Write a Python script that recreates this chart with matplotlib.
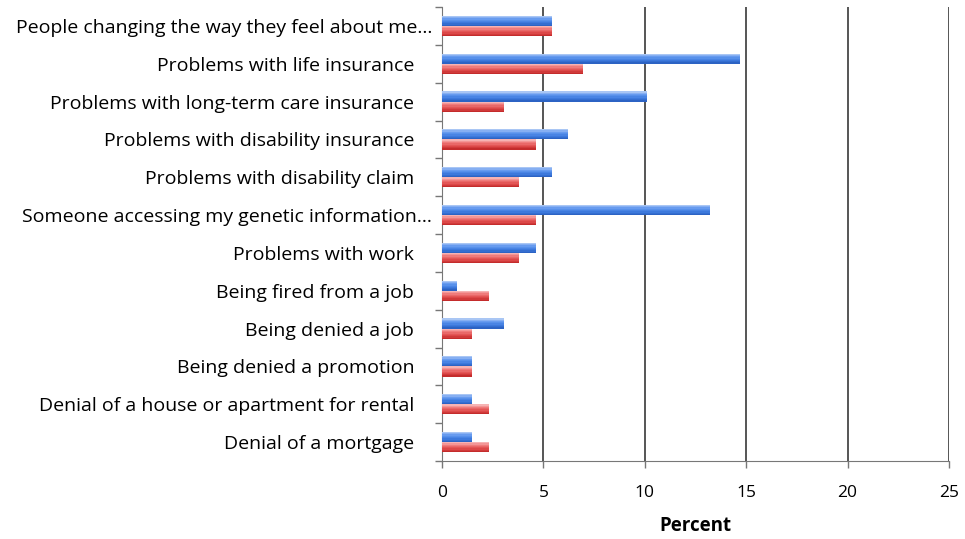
import numpy as np
import matplotlib.pyplot as plt
import matplotlib.transforms as mtransforms
from matplotlib.colors import LinearSegmentedColormap
from matplotlib.ticker import FixedLocator, NullFormatter

categories = [
    "People changing the way they feel about me...",
    "Problems with life insurance",
    "Problems with long-term care insurance",
    "Problems with disability insurance",
    "Problems with disability claim",
    "Someone accessing my genetic information...",
    "Problems with work",
    "Being fired from a job",
    "Being denied a job",
    "Being denied a promotion",
    "Denial of a house or apartment for rental",
    "Denial of a mortgage",
]
blue_values = [5.4, 14.7, 10.1, 6.2, 5.4, 13.2, 4.65, 0.75, 3.05, 1.5, 1.5, 1.5]
red_values = [5.4, 6.95, 3.05, 4.65, 3.8, 4.65, 3.8, 2.3, 1.5, 1.5, 2.3, 2.3]
x_ticks = [0, 5, 10, 15, 20, 25]

plt.rcParams['font.family'] = ['Open Sans', 'DejaVu Sans']

fig = plt.figure(figsize=(9.65, 5.39), dpi=100)
ax = fig.add_axes([442 / 965, 1 - 461 / 539, (949 - 442) / 965, (461 - 7) / 539])

n = len(categories)
y = np.arange(n)[::-1].astype(float)
h = 0.27

# vertical shading of each bar, light at the top to dark at the bottom
blue_cmap = LinearSegmentedColormap.from_list(
    "blue_gloss", ["#a9c6f4", "#6b9ef0", "#4f8ae8", "#3a76da", "#2c63c4"])
red_cmap = LinearSegmentedColormap.from_list(
    "red_gloss", ["#f6b3b3", "#f08080", "#e65e5e", "#da4444", "#c42c2c"])

bands = 8


def shaded_barh(centers, values, cmap):
    for k in range(bands):
        frac = k / (bands - 1)
        top = centers + h / 2 - k * h / bands
        ax.barh(top - h / (2 * bands), values, height=h / bands,
                color=cmap(frac), linewidth=0, zorder=3)


shaded_barh(y + h / 2, blue_values, blue_cmap)
shaded_barh(y - h / 2, red_values, red_cmap)

ax.set_xlim(0, 25)
ax.set_ylim(-0.5, n - 0.5)
ax.set_xticks(x_ticks)
ax.set_xticklabels([str(t) for t in x_ticks], fontsize=12.5)
ax.xaxis.grid(True, color="#555555", linewidth=1.4, zorder=1)
ax.tick_params(axis="x", length=5, width=1, color="#777777", pad=12)

ax.set_yticks(y)
ax.set_yticklabels(categories, fontsize=14)
ax.tick_params(axis="y", which="major", length=0, pad=20)
ax.yaxis.set_minor_locator(FixedLocator(np.arange(-0.5, n, 1.0)))
ax.yaxis.set_minor_formatter(NullFormatter())
ax.tick_params(axis="y", which="minor", length=5, width=1, color="#777777")

# truncated labels (ending in "...") sit closer to the axis
for lbl in ax.get_yticklabels():
    if lbl.get_text().endswith("..."):
        lbl.set_transform(lbl.get_transform() +
                          mtransforms.ScaledTranslation(18 / 100, 0, fig.dpi_scale_trans))

for s in ["top", "right"]:
    ax.spines[s].set_visible(False)
ax.spines["left"].set_color("#777777")
ax.spines["bottom"].set_color("#777777")

ax.set_xlabel("Percent", fontsize=13.5, fontweight="bold", labelpad=11)

fig.savefig("out.png", dpi=100)
